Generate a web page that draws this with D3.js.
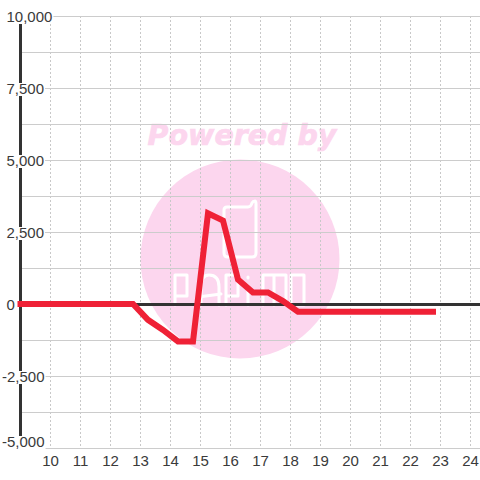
<!DOCTYPE html>
<html><head><meta charset="utf-8">
<script src="https://cdn.jsdelivr.net/npm/d3@7"></script>
<style>html,body{margin:0;padding:0;background:#fff}svg{display:block}text{font-family:"Liberation Sans",Arial,sans-serif}</style>
</head><body><div id="c"></div>
<script>
const hours=[9,12.75,13.25,13.75,14.25,14.75,15.25,15.75,16.25,16.75,17.25,17.75,18.25,22.75];
const values=[0,0,-550,-900,-1300,-1300,3150,2900,850,400,400,100,-270,-270];
const xTicks=[10,11,12,13,14,15,16,17,18,19,20,21,22,23,24];
const yTicks=[10000,7500,5000,2500,0,-2500,-5000];
const yGrid=[10000,8750,7500,6250,5000,3750,2500,1250,0,-1250,-2500,-3750,-5000];
const W=480,H=480;
const x=d3.scaleLinear().domain([9,24]).range([20.5,470.5]);
const y=d3.scaleLinear().domain([-5000,10000]).range([448,16]);
const svg=d3.select('#c').append('svg').attr('width',W).attr('height',H);
// watermark
const wm=svg.append('g');
wm.append('circle').attr('cx',240).attr('cy',259).attr('r',99.5).attr('fill','#fcd6ee');
wm.append('text').attr('x',242).attr('y',145).attr('text-anchor','middle').attr('fill','#fcd6ee').attr('stroke','#fcd6ee').attr('stroke-width',0.7)
 .attr('style','font-family:"DejaVu Sans";font-weight:bold;font-style:italic;font-size:28.5px').text('Powered by');
const logo=wm.append('g').attr('fill','none').attr('stroke','#fff').attr('stroke-width',3).attr('stroke-linejoin','round').attr('stroke-linecap','round');
logo.append('path').attr('d','M227 207H248Q251 207 252 203Q253 201 255 201Q256 201 256 204V253Q256 257 252 257H228Q224 257 224 253V210Q224 207 227 207Z');
logo.append('path').attr('d','M175 305V275H187V296H175 M201 305V287Q201 275 209 275Q219 275 219 287V305M198 297L221 294 M226 305V275H238V296H226 M248 305V288 M248 277V278 M263 305V275H274V305M274 275H286V305 M291 305V275H304V305H291');
// grid
svg.append('g').selectAll('line').data(xTicks).join('line')
 .attr('x1',d=>x(d)).attr('x2',d=>x(d)).attr('y1',16).attr('y2',448)
 .attr('stroke','#c8c8c8').attr('stroke-dasharray','2,2');
svg.append('g').selectAll('line').data(yGrid).join('line')
 .attr('x1',20).attr('x2',480).attr('y1',d=>y(d)+0.5).attr('y2',d=>y(d)+0.5)
 .attr('stroke','#cccccc');
// axes
svg.append('line').attr('x1',20.5).attr('x2',20.5).attr('y1',16).attr('y2',448).attr('stroke','#333').attr('stroke-width',3);
svg.append('line').attr('x1',20).attr('x2',480).attr('y1',y(0)+0.5).attr('y2',y(0)+0.5).attr('stroke','#333').attr('stroke-width',3);
// y labels on white plates
const fmt=v=>d3.format(',')(v).replace('\u2212','-');
const yl=svg.append('g').selectAll('g').data(yTicks).join('g')
 .attr('transform',d=>`translate(${d<0?2:6.5},${d===-5000?447:y(d)+6})`);
yl.append('text').attr('font-size',15).attr('fill','#3a3a3a').text(fmt);
yl.each(function(){
  const g=d3.select(this),b=g.select('text').node().getBBox();
  g.insert('rect','text').attr('x',b.x).attr('y',-11).attr('width',b.width+1).attr('height',13).attr('fill','#fff');
});
svg.append('g').selectAll('text').data(xTicks).join('text')
 .attr('x',d=>x(d)).attr('y',466).attr('text-anchor','middle').attr('font-size',15).attr('fill','#3a3a3a').text(d=>d);
// series
svg.append('path').datum(hours.map((h,i)=>[h,values[i]]))
 .attr('d',d3.line().x(d=>x(d[0])).y(d=>y(d[1])))
 .attr('fill','none').attr('stroke','#ef2136').attr('stroke-width',6).attr('stroke-linejoin','miter').attr('stroke-linecap','square');
</script></body></html>
